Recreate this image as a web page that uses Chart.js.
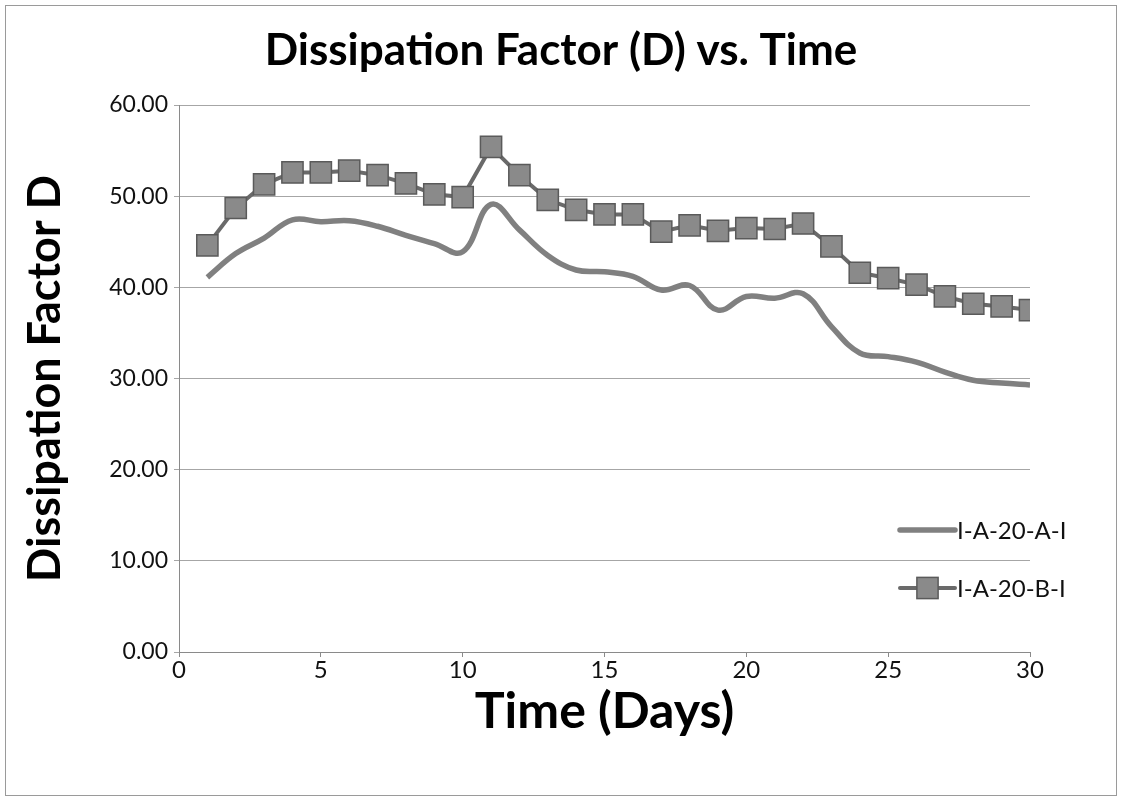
<!DOCTYPE html>
<html>
<head>
<meta charset="utf-8">
<script src="https://cdn.jsdelivr.net/npm/chart.js@4.4.1/dist/chart.umd.min.js"></script>
<style>
  html, body { margin: 0; padding: 0; background: #ffffff; }
  #wrap { width: 1122px; height: 801px; }
</style>
</head>
<body>
<div id="wrap"><canvas id="chart" width="1122" height="801"></canvas></div>
<script>
// Measurement days
const days = [1, 2, 3, 4, 5, 6, 7, 8, 9, 10, 11, 12, 13, 14, 15, 16, 17, 18, 19, 20,
              21, 22, 23, 24, 25, 26, 27, 28, 29, 30];

// Dissipation factor D per day, sample A (smoothed line)
const seriesA = [41.1, 43.7, 45.4, 47.4, 47.2, 47.3, 46.7, 45.7, 44.8, 43.9,
                 49.1, 46.3, 43.5, 41.9, 41.7, 41.2, 39.7, 40.2, 37.5, 39.0,
                 38.8, 39.3, 35.7, 32.8, 32.4, 31.8, 30.7, 29.8, 29.5, 29.3];

// Dissipation factor D per day, sample B (square markers)
const seriesB = [44.6, 48.7, 51.3, 52.6, 52.6, 52.8, 52.3, 51.4, 50.2, 49.9,
                 55.4, 52.3, 49.6, 48.5, 48.0, 48.0, 46.1, 46.8, 46.2, 46.5,
                 46.4, 47.0, 44.5, 41.6, 41.0, 40.3, 39.0, 38.2, 37.9, 37.5];

const seriesNames = ['I-A-20-A-I', 'I-A-20-B-I'];

const FONT = 'Lato, "Open Sans", "DejaVu Sans", sans-serif';

// Outer frame around the whole chart
const framePlugin = {
  id: 'frame',
  beforeDraw(chart) {
    const ctx = chart.ctx;
    ctx.save();
    ctx.fillStyle = '#ffffff';
    ctx.fillRect(0, 0, chart.width, chart.height);
    ctx.strokeStyle = '#9a9a9a';
    ctx.lineWidth = 1;
    ctx.strokeRect(5.5, 5.5, chart.width - 11, chart.height - 11);
    ctx.restore();
  }
};

// Legend drawn inside the plot, right side
const insideLegend = {
  id: 'insideLegend',
  afterDraw(chart) {
    const ctx = chart.ctx;
    const x0 = 900, x1 = 955;
    chart.data.datasets.forEach((ds, i) => {
      const y = 530 + i * 58;
      ctx.save();
      ctx.strokeStyle = ds.borderColor;
      ctx.lineWidth = ds.borderWidth;
      ctx.lineCap = 'round';
      ctx.beginPath();
      ctx.moveTo(x0, y);
      ctx.lineTo(x1, y);
      ctx.stroke();
      if (ds.pointRadius > 0) {
        const s = ds.pointRadius / Math.SQRT2;
        ctx.fillStyle = ds.pointBackgroundColor;
        ctx.strokeStyle = ds.pointBorderColor;
        ctx.lineWidth = ds.pointBorderWidth;
        ctx.fillRect((x0 + x1) / 2 - s, y - s, 2 * s, 2 * s);
        ctx.strokeRect((x0 + x1) / 2 - s, y - s, 2 * s, 2 * s);
      }
      ctx.fillStyle = '#111111';
      ctx.font = '24px ' + FONT;
      ctx.textBaseline = 'middle';
      ctx.textAlign = 'left';
      ctx.fillText(ds.label, x1 + 2, y + 1);
      ctx.restore();
    });
  }
};

const ctx = document.getElementById('chart').getContext('2d');
new Chart(ctx, {
  type: 'line',
  data: {
    datasets: [
      {
        label: seriesNames[0],
        data: days.map((d, i) => ({ x: d, y: seriesA[i] })),
        borderColor: '#808080',
        borderWidth: 5.5,
        pointRadius: 0,
        tension: 0.4,
        fill: false
      },
      {
        label: seriesNames[1],
        data: days.map((d, i) => ({ x: d, y: seriesB[i] })),
        borderColor: '#6a6a6a',
        borderWidth: 4,
        pointStyle: 'rect',
        pointRadius: 15,
        pointBackgroundColor: '#8a8a8a',
        pointBorderColor: '#5a5a5a',
        pointBorderWidth: 1.5,
        tension: 0,
        fill: false
      }
    ]
  },
  options: {
    responsive: false,
    animation: false,
    layout: { padding: { top: 10, left: 10, right: 10, bottom: 10 } },
    plugins: {
      legend: { display: false },
      tooltip: { enabled: false },
      title: {
        display: true,
        text: 'Dissipation Factor (D) vs. Time',
        color: '#000000',
        font: { family: FONT, size: 44, weight: 'bold', lineHeight: 1.2 },
        padding: { top: 14.6, bottom: 27.6 }
      }
    },
    scales: {
      x: {
        type: 'linear',
        min: 0,
        max: 30,
        afterFit(scale) { scale.height = 139; },
        border: { display: true, color: '#8a8a8a', width: 1 },
        grid: { display: true, drawOnChartArea: false, drawTicks: true, tickLength: 5, color: '#8a8a8a' },
        ticks: {
          stepSize: 5,
          padding: 1,
          color: '#111111',
          font: { family: FONT, size: 24, lineHeight: 1 },
          callback: v => String(v)
        },
        title: {
          display: true,
          text: 'Time (Days)',
          color: '#000000',
          font: { family: FONT, size: 50, weight: 'bold', lineHeight: 1.2 },
          padding: { top: 0, bottom: 49 }
        }
      },
      y: {
        min: 0,
        max: 60,
        afterFit(scale) { scale.width = 169; },
        border: { display: true, color: '#8a8a8a', width: 1 },
        grid: { display: true, drawOnChartArea: true, drawTicks: true, tickLength: 5, color: '#a6a6a6', lineWidth: 1 },
        ticks: {
          stepSize: 10,
          padding: 6,
          color: '#111111',
          font: { family: FONT, size: 23 },
          callback: v => Number(v).toFixed(2)
        },
        title: {
          display: true,
          text: 'Dissipation Factor D',
          color: '#000000',
          font: { family: FONT, size: 45, weight: 'bold', lineHeight: 1.2 },
          padding: { top: 8, bottom: 0 }
        }
      },
      // Empty right-hand spacer so the plot ends short of the frame
      yRight: {
        position: 'right',
        min: 0,
        max: 60,
        afterFit(scale) { scale.width = 82; },
        border: { display: false },
        grid: { display: false, drawOnChartArea: false },
        ticks: { display: false }
      }
    }
  },
  plugins: [framePlugin, insideLegend]
});
</script>
</body>
</html>
